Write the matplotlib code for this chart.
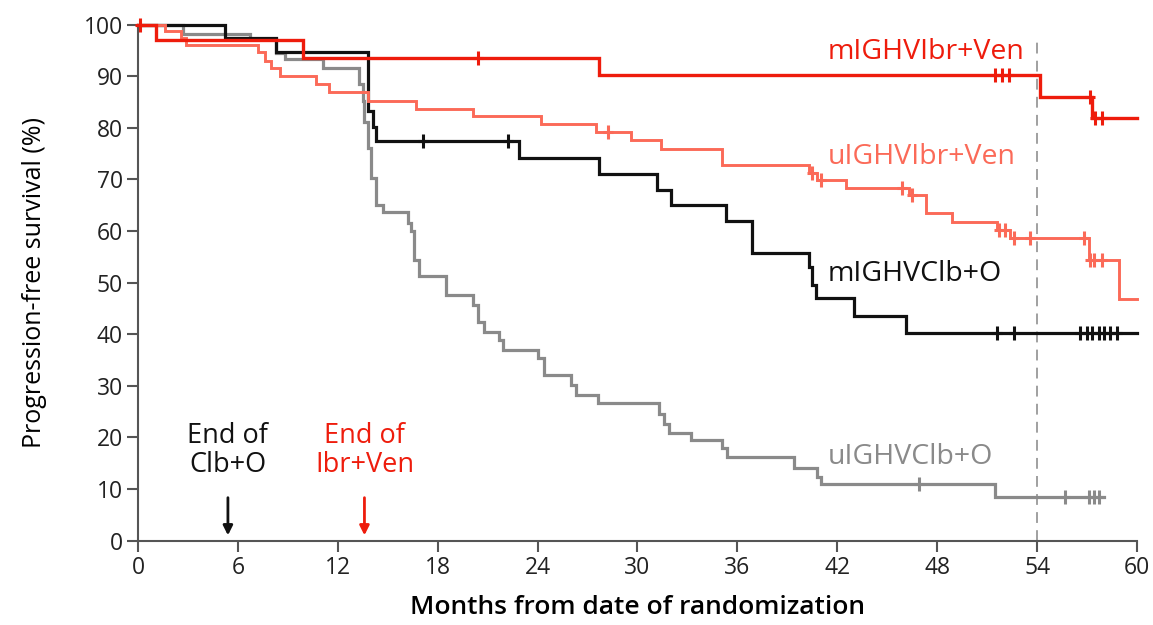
import numpy as np
import matplotlib
matplotlib.use("Agg")
import matplotlib.pyplot as plt

plt.rcParams['font.family'] = ['Open Sans', 'DejaVu Sans']

# Kaplan-Meier step curves: event times (months) and survival (%) after each step
m_ibr_t = [0, 1.1, 9.9, 27.7, 54.2, 57.3]
m_ibr_s = [100, 97.0, 93.5, 90.2, 85.9, 81.9]
m_ibr_end = 60
m_ibr_cens = [0.1, 20.4, 51.5, 51.9, 52.3, 57.2, 57.5, 57.9]

u_ibr_t = [0, 1.6, 2.6, 2.9, 7.2, 7.6, 8.0, 8.5, 10.7, 11.5, 13.8, 16.7, 20.1,
           24.2, 27.5, 29.6, 31.4, 35.1, 40.3, 40.8, 42.5, 46.3, 47.3, 48.9,
           51.6, 52.4, 57.1, 58.9]
u_ibr_s = [100, 98.8, 97.4, 96.0, 94.6, 93.0, 91.6, 90.0, 88.5, 87.0, 85.1, 83.6,
           82.2, 80.7, 79.2, 77.7, 75.9, 72.7, 71.2, 69.9, 68.3, 67.0, 63.5, 61.8,
           60.2, 58.6, 54.4, 46.8]
u_ibr_end = 60
u_ibr_cens = [28.2, 40.5, 41.0, 45.9, 46.5, 51.7, 52.1, 52.6, 53.6, 56.8, 57.2,
              57.4, 57.9]

m_clb_t = [0, 5.2, 8.3, 13.8, 14.1, 14.3, 22.9, 27.7, 31.2, 32.0, 35.3, 36.9,
           40.3, 40.5, 40.7, 43.0, 46.1]
m_clb_s = [100, 97.5, 94.6, 83.2, 80.2, 77.5, 74.1, 71.0, 68.0, 65.0, 62.0, 55.8,
           53.1, 49.6, 47.0, 43.5, 40.2]
m_clb_end = 60
m_clb_cens = [17.1, 22.2, 51.6, 52.6, 56.6, 57.0, 57.3, 57.7, 58.0, 58.4, 58.8]

u_clb_t = [0, 2.7, 6.7, 8.3, 8.8, 11.1, 13.3, 13.5, 13.6, 13.8, 14.0, 14.3, 14.7,
           16.2, 16.4, 16.6, 16.9, 18.5, 20.1, 20.4, 20.8, 21.7, 21.9, 24.0, 24.4,
           26.0, 26.3, 27.6, 31.3, 31.6, 31.9, 33.2, 35.1, 35.4, 39.4, 40.8, 41.0,
           51.5]
u_clb_s = [100, 98.1, 97.2, 94.5, 93.3, 91.6, 88.4, 85.1, 81.2, 76.1, 70.3, 65.1,
           63.6, 61.5, 59.9, 54.4, 51.3, 47.6, 45.7, 42.4, 40.5, 38.9, 37.0, 35.3,
           32.1, 30.2, 28.2, 26.7, 24.5, 22.5, 20.8, 19.5, 17.9, 16.1, 14.0, 12.4,
           11.0, 8.5]
u_clb_end = 58.0
u_clb_cens = [46.9, 55.7, 57.1, 57.4, 57.7]

groups = ['mIGHVIbr+Ven', 'uIGHVIbr+Ven', 'mIGHVClb+O', 'uIGHVClb+O']
label_y = [94.6, 74.4, 51.6, 16.2]
x_ticks = list(range(0, 61, 6))
y_ticks = list(range(0, 101, 10))

RED = '#ee1c0c'
SALMON = '#fb6a58'
BLACK = '#111111'
GREY = '#8a8a8a'


def km_curve(ax, t, s, t_end, cens, color, lw):
    t = list(t) + [t_end]
    s = list(s) + [s[-1]]
    ax.step(t, s, where='post', color=color, lw=lw, clip_on=False,
            solid_joinstyle='miter', zorder=3)
    # censor ticks sit on the curve value at that time
    idx = np.searchsorted(t, cens, side='right') - 1
    cy = np.array(s)[idx]
    ax.plot(cens, cy, ls='none', marker='|', ms=10, mew=2.2, color=color,
            clip_on=False, zorder=4)
    ax.plot(cens, cy, ls='none', marker='_', ms=7, mew=2.2, color=color,
            clip_on=False, zorder=4)


fig = plt.figure(figsize=(11.53, 6.25), dpi=100)
ax = fig.add_axes([0.1197, 0.1352, 0.8664, 0.8254])

ax.axvline(54, ymin=0, ymax=0.97, color='#999999', lw=1.3, dashes=(6, 4), zorder=1)

km_curve(ax, u_clb_t, u_clb_s, u_clb_end, u_clb_cens, GREY, 2.3)
km_curve(ax, m_clb_t, m_clb_s, m_clb_end, m_clb_cens, BLACK, 2.3)
km_curve(ax, u_ibr_t, u_ibr_s, u_ibr_end, u_ibr_cens, SALMON, 2.1)
km_curve(ax, m_ibr_t, m_ibr_s, m_ibr_end, m_ibr_cens, RED, 2.4)

for name, yv, col in zip(groups, label_y, [RED, SALMON, BLACK, GREY]):
    ax.text(41.4, yv, name, color=col, fontsize=20.5, ha='left', va='center')

# end-of-treatment markers
ax.text(5.4, 17.5, 'End of\nClb+O', color=BLACK, fontsize=19.5, ha='center',
        va='center', linespacing=1.05, fontweight='medium')
ax.annotate('', xy=(5.4, 1.0), xytext=(5.4, 8.3),
            arrowprops=dict(arrowstyle='-|>', color=BLACK, lw=2,
                            mutation_scale=14, shrinkA=0, shrinkB=0))
ax.text(13.6, 17.5, 'End of\nIbr+Ven', color=RED, fontsize=19.5, ha='center',
        va='center', linespacing=1.05, fontweight='medium')
ax.annotate('', xy=(13.6, 1.0), xytext=(13.6, 8.3),
            arrowprops=dict(arrowstyle='-|>', color=RED, lw=2,
                            mutation_scale=14, shrinkA=0, shrinkB=0))

ax.set_xlim(0, 60)
ax.set_ylim(0, 100)
ax.set_xticks(x_ticks)
ax.set_yticks(y_ticks)
ax.tick_params(labelsize=16.5, length=8, width=1.5, color='#555555',
               labelcolor='#222222', pad=3)
for side in ['top', 'right']:
    ax.spines[side].set_visible(False)
for side in ['left', 'bottom']:
    ax.spines[side].set_color('#555555')
    ax.spines[side].set_linewidth(1.5)

ax.set_xlabel('Months from date of randomization', fontsize=19,
              fontweight='semibold', labelpad=11)
ax.set_ylabel('Progression-free survival (%)', fontsize=18, labelpad=26)

fig.savefig('out.png', dpi=100)
